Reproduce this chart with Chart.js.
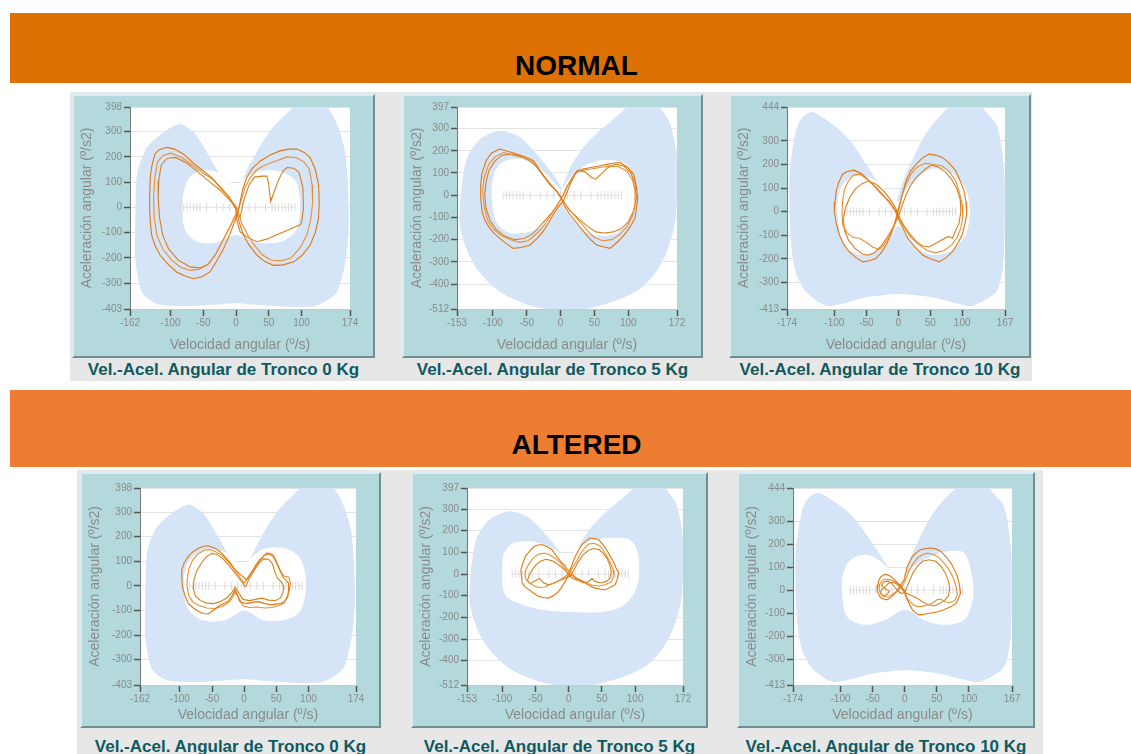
<!DOCTYPE html>
<html>
<head>
<meta charset="utf-8">
<script src="https://cdn.jsdelivr.net/npm/chart.js@4.4.1/dist/chart.umd.min.js"></script>
<style>
body{margin:0;width:1131px;height:754px;background:#fff;position:relative;overflow:hidden;font-family:"Liberation Sans",Arial,sans-serif}
.band{position:absolute;left:10px;width:1121px}
.head{position:absolute;left:0;width:1153px;text-align:center;font:bold 28px "Liberation Sans",Arial,sans-serif;line-height:28px;color:#000}
.strip{position:absolute;background:#e7e7e7}
.frame{position:absolute;box-sizing:border-box;background:#b4d9dd;border:2px solid;border-color:#dcecee #6f8e91 #6f8e91 #dcecee}
.frame canvas{display:block}
.cap{position:absolute;text-align:center;font:bold 17px "Liberation Sans",Arial,sans-serif;line-height:18px;color:#0f5a61;white-space:nowrap}
</style>
</head>
<body>
<div class="band" style="top:13px;height:70px;background:#de7104"></div>
<div class="head" style="top:52px">NORMAL</div>
<div class="band" style="top:390px;height:77px;background:#ed7d31"></div>
<div class="head" style="top:431px">ALTERED</div>
<div class="strip" style="left:70px;top:92px;width:962px;height:289px"></div>
<div class="strip" style="left:77px;top:470px;width:966px;height:284px"></div>
<div id="panels"></div>
<script>
// tick labels per load
const xTicks0 = [-162, -100, -50, 0, 50, 100, 174];
const yTicks0 = [398, 300, 200, 100, 0, -100, -200, -300, -403];
const xTicks5 = [-153, -100, -50, 0, 50, 100, 172];
const yTicks5 = [397, 300, 200, 100, 0, -100, -200, -300, -400, -512];
const xTicks10 = [-174, -100, -50, 0, 50, 100, 167];
const yTicks10 = [444, 300, 200, 100, 0, -100, -200, -300, -413];

// normal band (outer edge) per load
const outer0 = [[-2,40],[-14,77],[-40,198],[-62,290],[-85,331],[-110,300],[-136,238],[-150,150],[-153,64],[-154,-100],[-154,-203],[-144,-336],[-121,-383],[-80,-392],[-30,-385],[0,-380],[40,-388],[90,-395],[123,-390],[154,-336],[168,-200],[172,-69],[171,80],[166,230],[154,331],[140,395],[120,420],[98,420],[82,384],[52,304],[21,171],[-2,40]];
const outer5 = [[2,30],[-10,90],[-31,170],[-60,261],[-90,290],[-120,250],[-139,160],[-147,18],[-149,-133],[-138,-250],[-124,-330],[-100,-410],[-80,-452],[-45,-496],[-10,-515],[30,-515],[58,-497],[90,-465],[118,-421],[140,-350],[157,-255],[168,-140],[172,-27],[172,170],[162,321],[150,380],[137,420],[108,420],[85,360],[58,291],[35,220],[15,128],[2,30]];
const outer10 = [[-5,30],[-19,73],[-50,201],[-75,300],[-97,359],[-134,423],[-150,400],[-160,344],[-170,159],[-168,-127],[-160,-260],[-144,-341],[-113,-399],[-80,-385],[-50,-363],[1,-349],[54,-363],[85,-385],[116,-399],[153,-341],[163,-250],[166,-127],[166,159],[160,300],[153,373],[135,430],[126,460],[95,460],[74,430],[43,330],[12,159],[-5,30]];

// normal band (inner hole)
const innerN0 = [[0,80],[-10,100],[-30,140],[-55,145],[-72,115],[-80,60],[-82,0],[-78,-90],[-60,-135],[-30,-140],[0,-110],[30,-140],[70,-135],[92,-90],[98,0],[92,100],[70,140],[40,145],[15,120],[0,80]];
const innerN5 = [[0,20],[-10,60],[-35,130],[-60,165],[-85,150],[-98,100],[-102,0],[-95,-120],[-75,-170],[-40,-160],[-15,-110],[0,-30],[10,-80],[40,-170],[75,-180],[100,-130],[110,-40],[108,60],[95,140],[70,160],[40,140],[15,80],[0,20]];
const innerN10 = [[0,40],[-15,80],[-40,140],[-70,150],[-90,100],[-95,0],[-85,-140],[-55,-185],[-20,-140],[0,-60],[15,-110],[45,-180],[80,-170],[105,-100],[112,0],[105,100],[80,170],[50,180],[20,120],[0,40]];
const innerA0 = [[0,60],[-5,80],[-25,130],[-50,150],[-75,130],[-90,80],[-94,0],[-88,-90],[-65,-140],[-30,-140],[0,-100],[30,-140],[60,-140],[85,-110],[95,-40],[95,50],[85,120],[60,155],[30,150],[10,110],[0,60]];
const innerA5 = [[0,66],[-5,80],[-25,120],[-55,150],[-85,140],[-98,90],[-100,0],[-95,-100],[-70,-140],[-40,-165],[0,-175],[50,-175],[80,-150],[100,-80],[106,0],[103,110],[90,160],[60,166],[30,150],[10,110],[0,66]];
const innerA10 = [[0,60],[-22,89],[-45,140],[-64,154],[-85,130],[-97,60],[-97,-30],[-90,-115],[-64,-151],[-30,-130],[0,-86],[30,-130],[61,-151],[93,-129],[106,-40],[106,40],[93,161],[67,169],[35,140],[12,100],[0,60]];

// little ladder on the zero line
const ladderX = [-85,-80,-75,-70,-65,-60,-55,-45,-30,-20,-10,0,10,20,30,45,55,60,65,70,75,80,85,90];

// NORMAL 0 Kg
const n0Loop1 = [[0,-10],[-10,40],[-24,77],[-38,120],[-50,144],[-65,175],[-80,211],[-95,232],[-106,238],[-118,228],[-124,211],[-129,160],[-131,117],[-132,50],[-132,-3],[-131,-60],[-129,-109],[-124,-150],[-116,-190],[-104,-225],[-91,-256],[-78,-272],[-65,-283],[-52,-275],[-40,-256],[-30,-215],[-19,-163],[-10,-110],[-4,-69],[2,-30],[6,20],[10,70],[16,117],[25,155],[37,184],[52,208],[67,224],[80,231],[93,231],[104,218],[113,198],[121,150],[126,91],[127,20],[126,-43],[121,-100],[113,-150],[101,-190],[88,-216],[72,-228],[57,-230],[44,-215],[32,-190],[20,-150],[11,-109],[5,-60],[0,-10]];
const n0Loop2 = [[2,-5],[-8,30],[-20,70],[-35,110],[-50,135],[-68,170],[-84,200],[-100,215],[-112,205],[-120,180],[-124,120],[-126,40],[-125,-40],[-121,-110],[-112,-165],[-98,-210],[-84,-238],[-70,-250],[-56,-245],[-44,-228],[-32,-190],[-22,-140],[-12,-90],[-4,-50],[3,-15],[8,30],[14,80],[22,120],[32,150],[46,170],[62,185],[78,200],[92,197],[104,180],[112,150],[116,90],[117,20],[114,-50],[108,-110],[98,-160],[84,-200],[70,-212],[54,-210],[40,-188],[28,-150],[18,-110],[8,-60],[2,-5]];
const n0Loop3 = [[0,0],[-12,35],[-25,70],[-40,100],[-58,140],[-75,175],[-92,198],[-105,195],[-114,170],[-118,110],[-119,40],[-117,-40],[-112,-110],[-103,-165],[-88,-210],[-70,-236],[-55,-240],[-42,-225],[-30,-180],[-18,-120],[-8,-70],[0,-25],[6,-40],[12,30],[20,90],[28,120],[40,124],[47,124],[50,90],[52,40],[53,24],[58,60],[65,110],[72,145],[78,158],[88,155],[96,140],[102,80],[103,-3],[100,-60],[98,-69],[88,-80],[75,-95],[62,-109],[48,-125],[32,-136],[18,-120],[6,-96],[0,-40],[0,0]];

// NORMAL 5 Kg
const n5Loop1 = [[1,-12],[-6,20],[-16,48],[-28,100],[-40,155],[-52,172],[-65,185],[-78,198],[-90,208],[-102,190],[-110,155],[-116,100],[-118,48],[-118,-10],[-116,-73],[-112,-110],[-105,-148],[-98,-172],[-90,-194],[-80,-218],[-70,-239],[-58,-235],[-45,-224],[-35,-195],[-26,-164],[-18,-125],[-11,-88],[-4,-55],[4,-27],[9,10],[14,48],[19,80],[24,109],[33,118],[43,124],[55,130],[68,139],[78,144],[88,147],[99,125],[108,94],[112,40],[114,-12],[112,-60],[110,-103],[104,-135],[98,-164],[86,-205],[73,-239],[63,-232],[53,-224],[43,-195],[34,-164],[24,-125],[14,-88],[6,-50],[1,-12]];
const n5Loop2 = [[0,-5],[-8,25],[-18,60],[-30,110],[-42,150],[-56,170],[-70,180],[-84,192],[-96,175],[-106,140],[-113,80],[-115,20],[-113,-50],[-108,-110],[-100,-150],[-88,-180],[-74,-200],[-60,-212],[-48,-205],[-38,-180],[-28,-150],[-20,-115],[-12,-80],[-5,-45],[2,-10],[8,30],[15,70],[22,100],[32,112],[45,118],[58,125],[72,132],[86,128],[98,108],[106,70],[110,20],[110,-40],[106,-95],[98,-140],[88,-175],[76,-200],[62,-205],[50,-190],[40,-160],[30,-125],[20,-90],[10,-55],[0,-5]];
const n5Loop3 = [[2,-20],[-5,15],[-14,45],[-25,85],[-36,130],[-48,160],[-62,178],[-76,185],[-88,178],[-98,150],[-106,110],[-110,60],[-112,0],[-110,-60],[-104,-115],[-95,-155],[-82,-185],[-68,-200],[-54,-195],[-42,-175],[-32,-145],[-22,-110],[-12,-75],[-4,-40],[4,0],[10,40],[18,80],[26,110],[36,105],[46,80],[52,72],[60,95],[70,125],[82,140],[94,130],[104,100],[110,50],[112,-10],[108,-70],[100,-120],[90,-150],[78,-165],[65,-170],[52,-165],[40,-140],[28,-110],[16,-75],[8,-45],[2,-20]];

// NORMAL 10 Kg
const n10Loop1 = [[2,-41],[-3,0],[-14,44],[-25,70],[-35,101],[-45,130],[-56,159],[-69,176],[-80,170],[-87,159],[-93,125],[-97,87],[-99,40],[-100,1],[-97,-50],[-92,-99],[-85,-140],[-77,-170],[-66,-195],[-56,-213],[-45,-208],[-35,-199],[-26,-172],[-19,-141],[-12,-100],[-6,-56],[-2,-10],[2,30],[7,80],[12,130],[19,170],[28,201],[38,228],[48,244],[58,240],[69,230],[80,205],[90,173],[97,130],[103,87],[106,40],[107,-13],[104,-55],[100,-99],[93,-135],[85,-170],[75,-195],[64,-213],[50,-200],[38,-184],[26,-150],[15,-113],[8,-75],[2,-41]];
const n10Loop2 = [[0,-30],[-6,10],[-15,40],[-25,75],[-35,105],[-48,135],[-60,160],[-70,155],[-78,130],[-84,95],[-87,44],[-88,0],[-87,-56],[-80,-90],[-70,-110],[-61,-113],[-50,-130],[-40,-150],[-30,-160],[-22,-140],[-15,-110],[-8,-70],[-3,-30],[2,20],[6,70],[12,115],[20,160],[30,190],[42,205],[55,200],[68,195],[80,170],[90,130],[96,80],[100,30],[101,-20],[98,-70],[92,-110],[84,-140],[72,-165],[58,-175],[45,-165],[32,-140],[20,-110],[10,-70],[0,-30]];
const n10Loop3 = [[1,-20],[-4,15],[-12,50],[-22,85],[-34,115],[-46,130],[-56,120],[-66,100],[-76,60],[-82,20],[-86,-30],[-84,-80],[-78,-120],[-68,-155],[-56,-180],[-48,-185],[-38,-175],[-28,-150],[-20,-120],[-12,-85],[-5,-50],[1,-15],[6,25],[12,70],[20,115],[30,150],[42,180],[52,198],[62,190],[74,168],[84,135],[92,95],[97,50],[98,0],[95,-50],[88,-90],[85,-113],[78,-105],[68,-120],[58,-135],[48,-150],[38,-145],[28,-125],[18,-95],[9,-60],[1,-20]];

// ALTERED 0 Kg
const a0Loop1 = [[4,24],[-5,45],[-14,65],[-22,95],[-30,119],[-38,140],[-45,153],[-56,163],[-64,160],[-71,153],[-80,138],[-87,119],[-93,95],[-97,65],[-97,30],[-96,-3],[-92,-40],[-87,-71],[-79,-90],[-71,-104],[-63,-112],[-56,-114],[-48,-100],[-40,-84],[-32,-72],[-25,-64],[-19,-40],[-14,-16],[-10,-40],[-7,-64],[0,-70],[6,-71],[14,-66],[22,-64],[32,-72],[42,-77],[50,-74],[58,-71],[64,-60],[68,-43],[69,-15],[69,11],[64,25],[60,38],[56,60],[53,79],[50,100],[45,126],[40,132],[35,133],[30,120],[24,106],[18,85],[14,65],[9,45],[4,24]];
const a0Loop2 = [[0,10],[-8,40],[-16,70],[-25,100],[-35,125],[-45,140],[-52,147],[-62,145],[-72,130],[-80,105],[-86,70],[-88,38],[-89,0],[-86,-40],[-80,-65],[-70,-80],[-58,-90],[-46,-92],[-36,-85],[-28,-75],[-20,-55],[-14,-25],[-8,-50],[-2,-80],[8,-88],[20,-86],[32,-90],[44,-88],[54,-80],[62,-70],[66,-50],[70,-20],[72,10],[70,35],[62,40],[58,55],[52,85],[46,115],[40,128],[32,125],[25,105],[18,80],[10,50],[0,10]];
const a0Loop3 = [[2,-5],[-6,25],[-15,55],[-24,85],[-33,110],[-42,128],[-50,132],[-58,120],[-66,95],[-74,60],[-78,25],[-79,-10],[-76,-40],[-68,-60],[-58,-70],[-48,-72],[-38,-65],[-28,-50],[-20,-30],[-14,-5],[-8,-30],[-2,-55],[8,-60],[18,-55],[28,-50],[38,-58],[48,-60],[56,-50],[60,-30],[62,-5],[58,15],[52,30],[48,55],[44,90],[38,108],[30,110],[24,95],[16,65],[8,30],[2,-5]];

// ALTERED 5 Kg
const a5Loop1 = [[10,-18],[4,5],[-2,20],[-6,40],[-10,51],[-18,80],[-25,112],[-32,125],[-40,136],[-46,134],[-52,128],[-58,108],[-65,82],[-69,50],[-72,20],[-71,-10],[-70,-42],[-66,-58],[-60,-72],[-52,-90],[-45,-103],[-38,-108],[-30,-111],[-22,-98],[-15,-80],[-10,-58],[-5,-34],[-1,-8],[2,20],[6,50],[10,82],[15,110],[20,136],[26,152],[32,166],[39,164],[45,159],[51,138],[57,112],[62,85],[67,59],[71,30],[75,5],[73,-25],[70,-49],[62,-62],[55,-72],[48,-70],[40,-65],[32,-55],[25,-42],[18,-30],[10,-18]];
const a5Loop2 = [[0,0],[-6,25],[-12,50],[-20,72],[-28,88],[-36,97],[-45,92],[-52,78],[-58,55],[-63,30],[-66,5],[-65,-20],[-60,-40],[-52,-55],[-44,-62],[-36,-60],[-28,-48],[-20,-38],[-12,-25],[-5,-10],[0,0],[6,30],[12,60],[18,95],[24,120],[30,138],[38,142],[46,132],[52,110],[58,80],[63,50],[67,20],[68,-10],[64,-35],[56,-48],[46,-55],[36,-52],[26,-40],[16,-25],[8,-12],[0,0]];
const a5Loop3 = [[2,-10],[-4,12],[-10,30],[-18,50],[-26,62],[-34,68],[-42,60],[-50,40],[-56,15],[-60,-10],[-62,-30],[-58,-45],[-50,-30],[-44,-20],[-38,-40],[-30,-50],[-22,-42],[-14,-30],[-6,-20],[2,-10],[8,20],[14,55],[22,90],[30,110],[38,118],[46,112],[52,95],[58,70],[62,40],[64,10],[62,-20],[56,-35],[48,-40],[40,-35],[35,-20],[30,-35],[22,-40],[14,-30],[6,-20],[2,-10]];

// ALTERED 10 Kg
const a10Loop1 = [[4,-42],[0,-5],[-5,15],[-11,31],[-17,48],[-22,60],[-27,66],[-32,67],[-37,58],[-40,45],[-42,22],[-43,1],[-41,-18],[-37,-35],[-32,-40],[-27,-42],[-22,-32],[-17,-20],[-12,-5],[-9,9],[-5,28],[-1,45],[4,103],[8,125],[12,147],[18,163],[25,176],[33,181],[41,183],[49,178],[56,169],[64,145],[72,118],[77,90],[82,60],[85,25],[87,-13],[84,-35],[80,-57],[72,-72],[61,-86],[52,-94],[41,-100],[32,-104],[22,-108],[17,-100],[12,-86],[8,-65],[4,-42]];
const a10Loop2 = [[2,-30],[-2,0],[-8,20],[-15,35],[-22,45],[-30,48],[-36,40],[-39,25],[-40,5],[-38,-15],[-33,-28],[-26,-30],[-20,-20],[-14,-8],[-8,5],[-3,20],[2,50],[7,85],[13,115],[20,140],[28,155],[36,160],[46,154],[54,140],[62,115],[70,85],[76,50],[80,15],[82,-20],[78,-45],[70,-55],[62,-50],[56,-40],[50,-42],[44,-55],[36,-65],[28,-70],[20,-72],[14,-65],[8,-50],[2,-30]];
const a10Loop3 = [[0,-10],[-6,10],[-12,25],[-18,35],[-25,30],[-30,15],[-35,5],[-38,-10],[-34,-25],[-28,-20],[-24,-5],[-30,5],[-36,20],[-33,35],[-26,40],[-20,28],[-15,10],[-10,-5],[-5,-15],[0,-10],[6,30],[12,70],[20,105],[28,125],[38,132],[48,125],[56,105],[63,75],[68,40],[70,5],[68,-25],[62,-45],[54,-60],[46,-68],[38,-65],[30,-55],[22,-40],[14,-28],[6,-18],[0,-10]];

const captions = ['Vel.-Acel. Angular de Tronco 0 Kg', 'Vel.-Acel. Angular de Tronco 5 Kg', 'Vel.-Acel. Angular de Tronco 10 Kg'];
const loopColors = ['#e0780f', '#e98f33', '#d8801c'];

// frame = [left, top, width, height], plot = [left, top, right, bottom] in page px
const panels = [
    { frame: [72, 94, 303, 264], plot: [130, 107, 350, 309], xt: xTicks0, yt: yTicks0, outer: outer0, inner: innerN0, loops: [n0Loop1, n0Loop2, n0Loop3], cap: captions[0], capTop: 361 },
    { frame: [402, 94, 301, 264], plot: [457, 107, 677, 309], xt: xTicks5, yt: yTicks5, outer: outer5, inner: innerN5, loops: [n5Loop1, n5Loop2, n5Loop3], cap: captions[1], capTop: 361 },
    { frame: [729, 94, 302, 264], plot: [787, 107, 1005, 309], xt: xTicks10, yt: yTicks10, outer: outer10, inner: innerN10, loops: [n10Loop1, n10Loop2, n10Loop3], cap: captions[2], capTop: 361 },
    { frame: [80, 472, 301, 256], plot: [140, 488, 356, 685], xt: xTicks0, yt: yTicks0, outer: outer0, inner: innerA0, loops: [a0Loop1, a0Loop2, a0Loop3], cap: captions[0], capTop: 738 },
    { frame: [411, 472, 297, 256], plot: [467, 488, 683, 685], xt: xTicks5, yt: yTicks5, outer: outer5, inner: innerA5, loops: [a5Loop1, a5Loop2, a5Loop3], cap: captions[1], capTop: 738 },
    { frame: [737, 472, 298, 256], plot: [793, 488, 1012, 685], xt: xTicks10, yt: yTicks10, outer: outer10, inner: innerA10, loops: [a10Loop1, a10Loop2, a10Loop3], cap: captions[2], capTop: 738 }
];

const toXY = arr => arr.map(p => ({ x: p[0], y: p[1] }));
const tickFont = { size: 10, family: '"Liberation Sans Narrow", "Liberation Sans", Arial' };
const titleFont = { size: 14, family: '"Liberation Sans", Arial' };

const plotBg = {
    id: 'plotBg',
    beforeDraw(chart) {
        const a = chart.chartArea;
        const ctx = chart.ctx;
        ctx.save();
        ctx.fillStyle = '#ffffff';
        ctx.fillRect(a.left, a.top, a.right - a.left, a.bottom - a.top);
        ctx.restore();
    }
};

const host = document.getElementById('panels');

panels.forEach(p => {
    const [fx, fy, fw, fh] = p.frame;
    const w = fw - 4, h = fh - 4;
    const ox = fx + 2, oy = fy + 2;
    const pl = p.plot[0] - ox, pt = p.plot[1] - oy, pr = p.plot[2] - ox, pb = p.plot[3] - oy;

    const frame = document.createElement('div');
    frame.className = 'frame';
    frame.style.cssText = `left:${fx}px;top:${fy}px;width:${fw}px;height:${fh}px`;
    const canvas = document.createElement('canvas');
    canvas.width = w;
    canvas.height = h;
    canvas.style.width = w + 'px';
    canvas.style.height = h + 'px';
    frame.appendChild(canvas);
    host.appendChild(frame);

    const cap = document.createElement('div');
    cap.className = 'cap';
    cap.style.cssText = `left:${fx - 30}px;top:${p.capTop}px;width:${fw + 60}px`;
    cap.textContent = p.cap;
    host.appendChild(cap);

    const datasets = [
        { data: toXY(p.outer), showLine: true, fill: 'shape', backgroundColor: '#d5e4f7', borderColor: 'rgba(0,0,0,0)', borderWidth: 0, pointRadius: 0, tension: 0.25, order: 5 },
        { data: toXY(p.inner), showLine: true, fill: 'shape', backgroundColor: '#ffffff', borderColor: 'rgba(0,0,0,0)', borderWidth: 0, pointRadius: 0, tension: 0.3, order: 4 },
        { data: ladderX.map(x => ({ x: x, y: 0 })), showLine: true, borderColor: '#e4e4e4', borderWidth: 1, pointStyle: 'line', rotation: 90, pointRadius: 4, pointBorderColor: '#dadada', pointBorderWidth: 1, order: 3 }
    ];
    p.loops.forEach((loop, i) => {
        datasets.push({ data: toXY(loop), showLine: true, fill: false, borderColor: loopColors[i], borderWidth: 1.1, pointRadius: 0, tension: 0, order: 1 });
    });

    new Chart(canvas.getContext('2d'), {
        type: 'scatter',
        data: { datasets: datasets },
        options: {
            responsive: false,
            animation: false,
            events: [],
            layout: { autoPadding: false, padding: { left: 4, top: pt, right: w - pr, bottom: 2 } },
            plugins: { legend: { display: false }, tooltip: { enabled: false } },
            scales: {
                x: {
                    type: 'linear',
                    min: p.xt[0],
                    max: p.xt[p.xt.length - 1],
                    afterBuildTicks: s => { s.ticks = p.xt.map(v => ({ value: v })); },
                    afterFit: s => { s.height = h - 2 - pb; },
                    grid: { drawOnChartArea: false, tickLength: 7, tickColor: '#555', tickWidth: 1.5 },
                    border: { color: '#c8c8c8' },
                    ticks: { color: '#8a8a8a', font: tickFont, padding: 1, maxRotation: 0, autoSkip: false, callback: v => String(v) },
                    title: { display: true, text: 'Velocidad angular (º/s)', color: '#8a8a8a', font: titleFont, padding: { top: 2, bottom: 0 } }
                },
                y: {
                    type: 'linear',
                    min: p.yt[p.yt.length - 1],
                    max: p.yt[0],
                    afterBuildTicks: s => { s.ticks = p.yt.map(v => ({ value: v })); },
                    afterFit: s => { s.width = pl - 4; },
                    grid: { color: '#e3e3e3', tickLength: 6, tickColor: '#555', tickWidth: 1.5 },
                    border: { color: '#777' },
                    ticks: { color: '#8a8a8a', font: tickFont, padding: 2, autoSkip: false, callback: v => String(v) },
                    title: { display: true, text: 'Aceleración angular (º/s2)', color: '#8a8a8a', font: titleFont, padding: { top: 1, bottom: 1 } }
                }
            }
        },
        plugins: [plotBg]
    });
});
</script>
</body>
</html>
